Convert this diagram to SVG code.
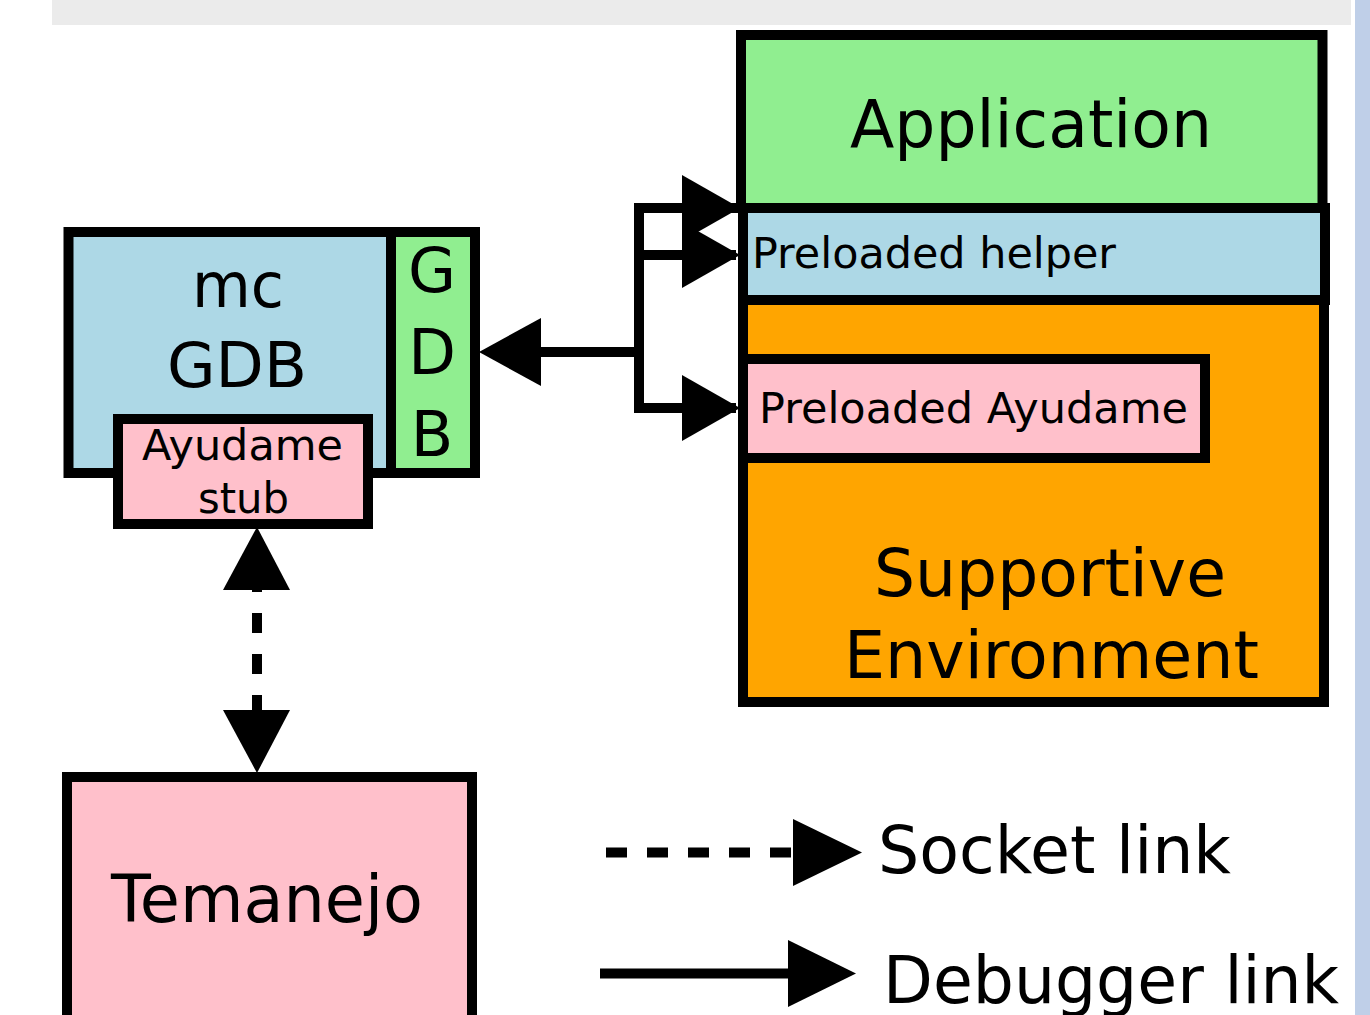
<svg xmlns="http://www.w3.org/2000/svg" width="1370" height="1015" viewBox="0 0 1370 1015">
<style>
.box{stroke:#000;stroke-width:10;stroke-linejoin:miter}
.t{font-family:"DejaVu Sans","Liberation Sans",sans-serif;fill:#000}
.ln{fill:none;stroke:#000;stroke-width:10;stroke-linejoin:miter}
.dash{fill:none;stroke:#000;stroke-width:10;stroke-dasharray:20 21}
.ah{fill:#000}
</style>
<rect x="0" y="0" width="1370" height="1015" fill="#fff"/>
<rect x="52" y="0" width="1299" height="25" fill="#ebebeb"/>
<rect x="1355" y="0" width="15" height="1015" fill="#bfcfe8"/>

<g id="application">
<rect class="box" x="741" y="35" width="581.5" height="173" fill="#90ee90"/>
<text class="t" x="1031" y="147" font-size="66" text-anchor="middle" textLength="362" lengthAdjust="spacingAndGlyphs">Application</text>
</g>
<g id="supportive-environment">
<rect class="box" x="743" y="300" width="581" height="402" fill="#ffa500"/>
<text class="t" x="1050" y="596" font-size="66" text-anchor="middle" textLength="352" lengthAdjust="spacingAndGlyphs">Supportive</text>
<text class="t" x="1051.5" y="678" font-size="66" text-anchor="middle" textLength="415" lengthAdjust="spacingAndGlyphs">Environment</text>
</g>
<g id="preloaded-helper">
<rect class="box" x="743" y="208" width="582" height="92" fill="#add8e6"/>
<text class="t" x="752" y="268" font-size="43" textLength="364" lengthAdjust="spacingAndGlyphs">Preloaded helper</text>
</g>
<g id="preloaded-ayudame">
<rect class="box" x="743" y="359" width="462" height="99" fill="#ffc0cb"/>
<text class="t" x="759" y="423" font-size="42.5" textLength="429" lengthAdjust="spacingAndGlyphs">Preloaded Ayudame</text>
</g>

<g id="mcgdb">
<rect class="box" x="68.5" y="232" width="322.5" height="241" fill="#add8e6"/>
<text class="t" x="238" y="307" font-size="62" text-anchor="middle" textLength="92" lengthAdjust="spacingAndGlyphs">mc</text>
<text class="t" x="237" y="387" font-size="62" text-anchor="middle" textLength="140" lengthAdjust="spacingAndGlyphs">GDB</text>
</g>
<g id="gdb">
<rect class="box" x="391" y="232" width="84" height="241" fill="#90ee90"/>
<text class="t" x="432" y="292" font-size="62" text-anchor="middle">G</text>
<text class="t" x="432" y="374" font-size="62" text-anchor="middle">D</text>
<text class="t" x="432" y="456" font-size="62" text-anchor="middle">B</text>
</g>
<g id="ayudame-stub">
<rect class="box" x="118" y="419" width="250" height="105" fill="#ffc0cb"/>
<text class="t" x="242.5" y="460" font-size="42" text-anchor="middle" textLength="201" lengthAdjust="spacingAndGlyphs">Ayudame</text>
<text class="t" x="243.5" y="513" font-size="42" text-anchor="middle" textLength="91" lengthAdjust="spacingAndGlyphs">stub</text>
</g>
<g id="temanejo">
<rect class="box" x="67" y="777" width="405" height="260" fill="#ffc0cb"/>
<text class="t" x="267" y="922" font-size="66" text-anchor="middle" textLength="312" lengthAdjust="spacingAndGlyphs">Temanejo</text>
</g>

<g id="connectors">
<path class="ln" d="M 736 208 H 639 V 408 H 736 M 639 255 H 736 M 639 352 H 530"/>
<polygon class="ah" points="682,175 740,208 682,241"/>
<polygon class="ah" points="682,222 740,255 682,288"/>
<polygon class="ah" points="682,375 740,408 682,441"/>
<polygon class="ah" points="479,352 541,318 541,386"/>
<line class="dash" x1="257" y1="715" x2="257" y2="572"/>
<polygon class="ah" points="257,527 290,590 223,590"/>
<polygon class="ah" points="257,773 290,710 223,710"/>
</g>

<g id="legend">
<line class="dash" x1="606" y1="852.5" x2="793" y2="852.5" style="stroke-dasharray:21 20"/>
<polygon class="ah" points="793,819 862,852.5 793,886"/>
<text class="t" x="878" y="873" font-size="66" textLength="353" lengthAdjust="spacingAndGlyphs">Socket link</text>
<line class="ln" x1="600" y1="973.5" x2="790" y2="973.5"/>
<polygon class="ah" points="788,940 856,973.5 788,1007"/>
<text class="t" x="883" y="1003" font-size="66" textLength="456" lengthAdjust="spacingAndGlyphs">Debugger link</text>
</g>
</svg>
